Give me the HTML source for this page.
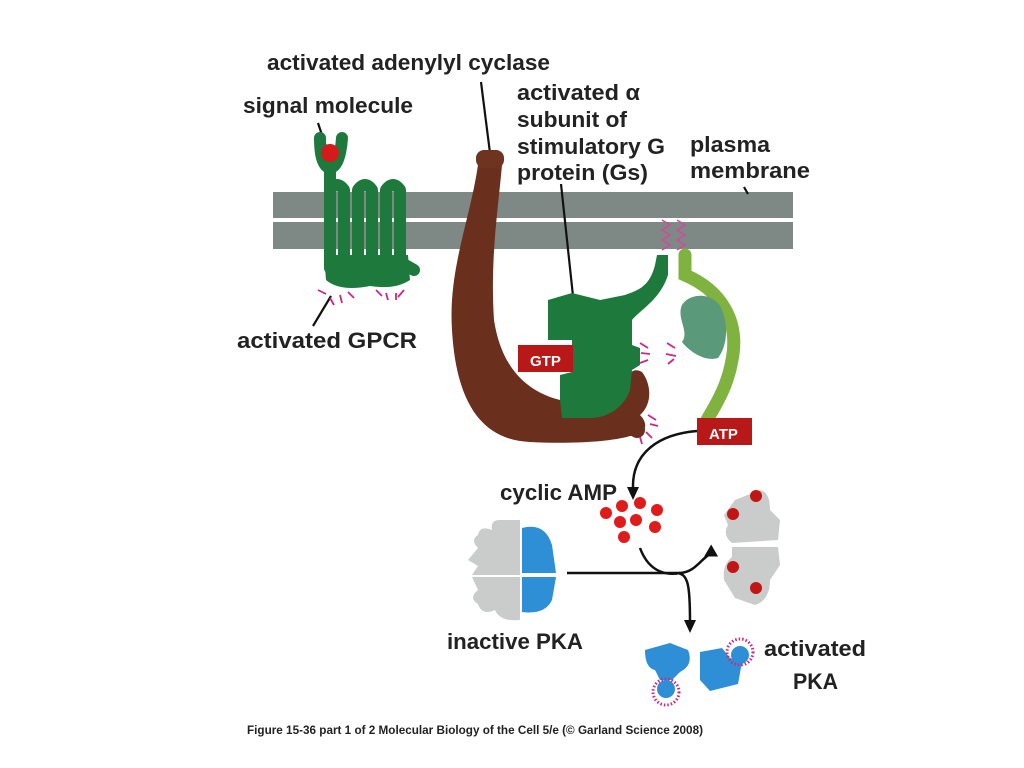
<!DOCTYPE html>
<html><head><meta charset="utf-8"><style>
html,body{margin:0;padding:0;background:#fff;}
svg{display:block}
text{font-family:"Liberation Sans",sans-serif;font-weight:bold;fill:#222;}
</style></head><body>
<svg width="1024" height="768" viewBox="0 0 1024 768" xmlns="http://www.w3.org/2000/svg">
<!-- membrane -->
<rect x="273" y="192" width="520" height="26" fill="#7e8986"/>
<rect x="273" y="222" width="520" height="27" fill="#7e8986"/>
<!-- labels -->
<text x="267" y="70" font-size="22" textLength="283" lengthAdjust="spacingAndGlyphs">activated adenylyl cyclase</text>
<text x="243" y="113" font-size="22" textLength="170" lengthAdjust="spacingAndGlyphs">signal molecule</text>
<text x="517" y="100" font-size="22" textLength="123" lengthAdjust="spacingAndGlyphs">activated α</text>
<text x="517" y="127" font-size="22" textLength="110" lengthAdjust="spacingAndGlyphs">subunit of</text>
<text x="517" y="154" font-size="22" textLength="148" lengthAdjust="spacingAndGlyphs">stimulatory G</text>
<text x="517" y="180" font-size="22" textLength="131" lengthAdjust="spacingAndGlyphs">protein (Gs)</text>
<text x="690" y="152" font-size="22" textLength="80" lengthAdjust="spacingAndGlyphs">plasma</text>
<text x="690" y="178" font-size="22" textLength="120" lengthAdjust="spacingAndGlyphs">membrane</text>
<text x="237" y="348" font-size="22" textLength="180" lengthAdjust="spacingAndGlyphs">activated GPCR</text>
<text x="500" y="500" font-size="22" textLength="117" lengthAdjust="spacingAndGlyphs">cyclic AMP</text>
<text x="447" y="649" font-size="22" textLength="136" lengthAdjust="spacingAndGlyphs">inactive PKA</text>
<text x="764" y="656" font-size="22" textLength="102" lengthAdjust="spacingAndGlyphs">activated</text>
<text x="793" y="689" font-size="22" textLength="45" lengthAdjust="spacingAndGlyphs">PKA</text>
<text x="247" y="734" font-size="12" textLength="456" lengthAdjust="spacingAndGlyphs">Figure 15-36 part 1 of 2  Molecular Biology of the Cell 5/e (© Garland Science 2008)</text>
<!-- leader lines -->
<g stroke="#111" stroke-width="2.2" fill="none">
<line x1="481" y1="82" x2="490" y2="153"/>
<line x1="318" y1="123" x2="326" y2="147"/>
<line x1="561" y1="184" x2="573" y2="296"/>
<line x1="744" y1="187" x2="748" y2="194"/>
<line x1="331" y1="296" x2="313" y2="326"/>
</g>
<!-- GPCR -->
<g fill="none" stroke="#1e7a3c" stroke-width="12" stroke-linecap="round" stroke-linejoin="round">
<path d="M320,138 Q320,166 330,168 Q340,166 342,138"/>
<path d="M330,168 L330,190 L330,268 M330,268 L330,190 Q337,180 344,190 L344,268 Q351,278 358,268 L358,190 Q365,180 372,190 L372,268 Q379,278 386,268 L386,190 Q393,180 400,190 L400,262 L414,270"/>
</g>
<path d="M324,255 L408,255 L410,280 Q395,290 370,286 Q340,292 326,280 Z" fill="#1e7a3c"/>
<circle cx="330" cy="153" r="9" fill="#d41a1a"/>
<!-- Adenylyl cyclase -->
<path d="M478,165 C470,220 448,270 452,330 C456,400 480,440 530,442 C570,444 610,442 630,436 C645,436 650,425 640,415 C652,405 652,385 642,372 C630,365 624,380 625,395 C620,410 590,410 560,400 C520,390 500,360 494,320 C490,260 498,210 502,165 Z" fill="#6a2f1d"/>
<rect x="476" y="150" width="28" height="18" rx="8" fill="#6f3420"/>
<circle cx="637" cy="430" r="8" fill="#6a2f1d"/>
<!-- Gs alpha -->
<path d="M548,300 L572,293 L600,300 L625,295 C640,290 650,285 655,265 L657,255 L668,255 L668,275 C660,300 640,310 632,320 L632,345 L640,348 L640,365 L632,370 L630,390 C625,405 610,418 590,418 L562,418 L560,400 L560,375 L572,372 L572,340 L548,340 Z" fill="#1e7a3c"/>
<!-- beta gamma -->
<path d="M685,255 L685,275 C720,290 740,320 732,360 C727,390 712,410 706,422" fill="none" stroke="#7fb23f" stroke-width="13" stroke-linecap="round"/>
<path d="M682,305 C690,292 715,292 722,310 C728,325 728,345 718,358 C705,362 690,352 682,342 C690,332 676,318 682,305 Z" fill="#5a9a7a"/>
<!-- zigzags -->
<g fill="none" stroke="#d04a9a" stroke-width="1.5">
<path d="M662,220 L670,225 L662,230 L670,235 L662,240 L670,245 L662,250"/>
<path d="M677,220 L685,225 L677,230 L685,235 L677,240 L685,245 L677,250"/>
</g>
<!-- magenta ticks -->
<g stroke="#c8288a" stroke-width="1.8">
<line x1="318" y1="290" x2="326" y2="294"/><line x1="330" y1="298" x2="334" y2="305"/><line x1="340" y1="295" x2="342" y2="303"/><line x1="348" y1="292" x2="354" y2="298"/>
<line x1="376" y1="290" x2="382" y2="296"/><line x1="386" y1="293" x2="388" y2="300"/><line x1="396" y1="293" x2="396" y2="300"/><line x1="404" y1="290" x2="398" y2="297"/>
<line x1="640" y1="343" x2="648" y2="348"/><line x1="641" y1="353" x2="650" y2="354"/><line x1="640" y1="363" x2="648" y2="360"/>
<line x1="667" y1="343" x2="675" y2="348"/><line x1="666" y1="354" x2="676" y2="356"/><line x1="668" y1="364" x2="674" y2="359"/>
<line x1="648" y1="415" x2="656" y2="420"/><line x1="650" y1="424" x2="658" y2="426"/><line x1="646" y1="432" x2="652" y2="438"/><line x1="640" y1="437" x2="642" y2="444"/>
</g>
<!-- GTP / ATP -->
<rect x="518" y="345" width="55" height="27" fill="#b81818"/>
<text x="530" y="366" font-size="15" style="fill:#fff">GTP</text>
<rect x="697" y="418" width="55" height="27" fill="#b81818"/>
<text x="709" y="439" font-size="15" style="fill:#fff">ATP</text>
<!-- arrows -->
<g fill="none" stroke="#111" stroke-width="2.5">
<path d="M697,431 C660,434 632,452 633,488"/>
<path d="M567,573 L680,573"/>
<path d="M640,548 C650,575 670,575 680,573 C695,572 700,560 710,554"/>
<path d="M678,573 C688,575 690,585 690,622"/>
</g>
<g fill="#111">
<path d="M627,487 L639,487 L633,500 Z"/>
<path d="M705,548 L719,548 L712,560 Z" transform="rotate(-60 712 553)"/>
<path d="M684,620 L696,620 L690,633 Z"/>
</g>
<!-- cAMP -->
<g fill="#e01b1b">
<circle cx="606" cy="513" r="6"/><circle cx="622" cy="506" r="6"/><circle cx="640" cy="503" r="6"/><circle cx="657" cy="510" r="6"/>
<circle cx="620" cy="522" r="6"/><circle cx="636" cy="520" r="6"/><circle cx="655" cy="527" r="6"/><circle cx="624" cy="537" r="6"/>
</g>
<!-- inactive PKA -->
<path d="M520,520 L500,520 Q490,520 492,530 Q480,525 478,535 Q470,540 478,548 L468,560 L478,566 L472,575 L520,575 Z" fill="#c9ccca"/>
<path d="M520,577 L472,577 L478,590 Q468,598 478,604 Q482,616 495,610 Q500,622 520,620 Z" fill="#c9ccca"/>
<path d="M522,528 Q545,522 552,545 L556,573 L522,573 Z" fill="#2f8fd6"/>
<path d="M522,577 L556,577 L552,600 Q545,615 522,612 Z" fill="#2f8fd6"/>
<!-- gray complex with cAMP -->
<path d="M735,500 L760,490 Q770,492 770,510 L780,520 L778,540 L732,543 Q722,535 728,525 L724,515 Z" fill="#c9ccca"/>
<path d="M732,547 L778,547 L780,565 L770,580 Q770,600 755,605 L735,598 L724,580 Q722,565 732,557 Z" fill="#c9ccca"/>
<g fill="#c01616"><circle cx="756" cy="496" r="6"/><circle cx="733" cy="514" r="6"/><circle cx="733" cy="567" r="6"/><circle cx="756" cy="588" r="6"/></g>
<!-- activated PKA -->
<path d="M645,650 L670,643 L688,650 Q694,665 680,672 L672,680 L660,680 L655,670 Q645,668 645,650 Z" fill="#2f8fd6"/>
<circle cx="666" cy="689" r="9" fill="#2f8fd6"/>
<path d="M700,652 L722,648 L730,658 L742,662 L738,684 L710,691 L700,680 Z" fill="#2f8fd6"/>
<circle cx="740" cy="655" r="9" fill="#2f8fd6"/>
<circle cx="666" cy="692" r="13" fill="none" stroke="#c8288a" stroke-width="3" stroke-dasharray="1.5 2"/>
<circle cx="740" cy="652" r="13" fill="none" stroke="#c8288a" stroke-width="3" stroke-dasharray="1.5 2"/>
</svg>
</body></html>
